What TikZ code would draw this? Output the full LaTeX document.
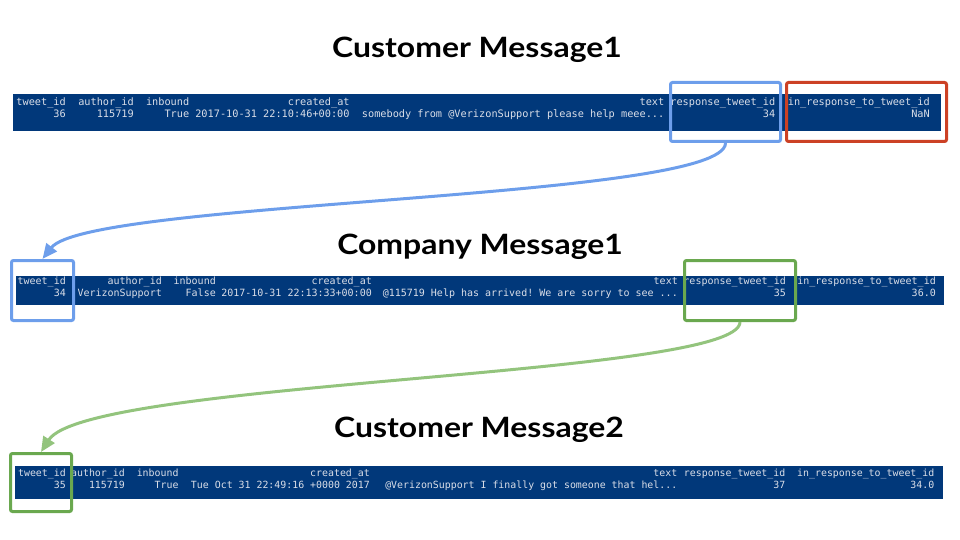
\documentclass[tikz,border=0pt]{standalone}
\usepackage{fontspec}
\setmainfont{Lato}
\setmonofont{DejaVu Sans Mono}
\newfontfamily\headfont{Lato}[FakeStretch=1.14]
\usepackage{tikz}
\usetikzlibrary{arrows.meta}
\definecolor{bandblue}{RGB}{1,56,122}
\definecolor{celltext}{RGB}{218,222,232}
\definecolor{hlblue}{RGB}{109,158,235}
\definecolor{hlred}{RGB}{204,65,37}
\definecolor{hlgreen}{RGB}{106,168,79}
\definecolor{lgreen}{RGB}{147,196,125}
\newcommand{\elp}{...}

\begin{document}
\begin{tikzpicture}[x=1pt, y=-1pt,
    band/.style={fill=bandblue, draw=none, inner sep=0pt, minimum width=928pt},
    cell/.style={anchor=base east, inner sep=0pt, text=celltext, font={\ttfamily\fontsize{#1}{#1}\selectfont}},
    hl/.style={draw=#1, line width=3pt, rounded corners=2pt, inner sep=0pt},
    head/.style={anchor=base, inner sep=0pt, font=\headfont\bfseries\fontsize{28}{30}\selectfont},
    link/.style={draw=#1, line width=3pt, -{Triangle[length=15pt,width=13pt]}}]
      %\draw [dotted] (0,0) grid[step=20] (960,540);
      \useasboundingbox (0,0) rectangle (960,540);
      \node [head]  (m1) at (477, 58) {Customer Message1};
      \node [head]  (m2) at (480,254) {Company Message1};
      \node [head]  (m3) at (479,437) {Customer Message2};
      \node [band, minimum height=37pt] (t1) at (477,112.5) {};
      \node [band, minimum height=29pt] (t2) at (480,290.5) {};
      \node [band, minimum height=33pt] (t3) at (479,482.5) {};
      % customer message 1
      \foreach \x/\h/\v [count=\i] in {66/tweet\_id/36,
          134/author\_id/115719,
          189.4/inbound/True,
          349.8/created\_at/2017-10-31 22:10:46+00:00,
          664.5/text/somebody from @VerizonSupport please help meee\elp,
          775.5/response\_tweet\_id/34,
          930/in\_response\_to\_tweet\_id/NaN}
        { \node [cell=10.25] (h1\i) at (\x,106) {\h};
          \node [cell=10.25] (v1\i) at (\x,118) {\v}; }
      % company message 1
      \foreach \x/\h/\v [count=\i] in {66/tweet\_id/34,
          162/author\_id/VerizonSupport,
          216/inbound/False,
          372/created\_at/2017-10-31 22:13:33+00:00,
          678/text/@115719 Help has arrived! We are sorry to see \elp,
          786/response\_tweet\_id/35,
          936/in\_response\_to\_tweet\_id/36.0}
        { \node [cell=10] (h2\i) at (\x,284.5) {\h};
          \node [cell=10] (v2\i) at (\x,296) {\v}; }
      % customer message 2
      \foreach \x/\h/\v [count=\i] in {66/tweet\_id/35,
          125/author\_id/115719,
          178.7/inbound/True,
          370/created\_at/Tue Oct 31 22:49:16 +0000 2017,
          677.5/text/@VerizonSupport I finally got someone that hel\elp,
          785.5/response\_tweet\_id/37,
          934.5/in\_response\_to\_tweet\_id/34.0}
        { \node [cell=9.9] (h3\i) at (\x,476) {\h};
          \node [cell=9.9] (v3\i) at (\x,488) {\v}; }
      \node [hl=hlblue,  minimum width=110pt, minimum height=59pt] (r1) at (725.5,112) {};
      \node [hl=hlred,   minimum width=160pt, minimum height=59pt] (n1) at (866.5,112) {};
      \node [hl=hlblue,  minimum width=62pt,  minimum height=60pt] (i2) at (42.5,290.5) {};
      \node [hl=hlgreen, minimum width=111pt, minimum height=60pt] (r2) at (740,290.5) {};
      \node [hl=hlgreen, minimum width=61pt,  minimum height=58pt] (i3) at (41,482.5) {};
      \draw [link=hlblue] (r1.south) .. controls +(0,57) and +(46,-59) .. (i2.north);
      \draw [link=lgreen] (r2.south) .. controls +(0,55) and +(46,-72) .. (i3.north);
\end{tikzpicture}
\end{document}
